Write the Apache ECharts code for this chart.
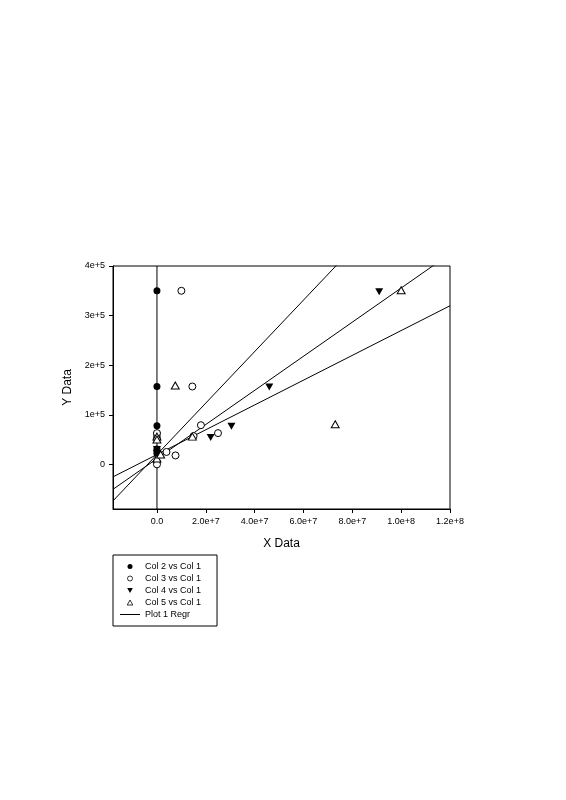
<!DOCTYPE html>
<html>
<head>
<meta charset="utf-8">
<script src="https://cdn.jsdelivr.net/npm/echarts@6/dist/echarts.min.js"></script>
<style>
    body { margin: 0; background: #fff; }
    #chart { width: 566px; height: 800px; }
</style>
</head>
<body>
<div id="chart"></div>
<script>
// scatter data
let col2X = [0, 0, 0, 0, 0, 0, 0, 0]
let col2Y = [350000, 157000, 78000, 62000, 57000, 31000, 27000, 22000]
let col3X = [1.0e7, 1.45e7, 1.8e7, 2.5e7, 7.6e6, 3.9e6, 0, 0, 0, 0, 1.5e7]
let col3Y = [350000, 157000, 79000, 63000, 18000, 25000, 63000, 52000, 5000, 0, 57000]
let col4X = [2.2e7, 3.05e7, 4.6e7, 9.1e7, 0, 0]
let col4Y = [54000, 77000, 156000, 348000, 30000, 22000]
let col5X = [7.5e6, 1.45e7, 7.3e7, 1.0e8, 0, 0, 0, 1.5e6]
let col5Y = [159000, 56000, 81000, 351000, 56000, 50000, 12000, 20000]

// regression lines: intercept / slope (plus one vertical at x = 0)
let regIntercept = [19800, 11600, 19800]
let regSlope = [0.00519, 0.00344, 0.00250]
let vertLineX = 0

// axes
let xMin = -1.8e7, xMax = 1.2e8
let yMin = -9e4, yMax = 4e5
let xTicks = [0, 2e7, 4e7, 6e7, 8e7, 1e8, 1.2e8]
let xTickLabels = ['0.0', '2.0e+7', '4.0e+7', '6.0e+7', '8.0e+7', '1.0e+8', '1.2e+8']
let yTicks = [0, 1e5, 2e5, 3e5, 4e5]
let yTickLabels = ['0', '1e+5', '2e+5', '3e+5', '4e+5']

let font = 'Liberation Sans, Arial, sans-serif'
let triDown = 'path://M0,0 L10,0 L5,9 Z'
let triUp = 'path://M5,0 L10,9 L0,9 Z'
let lineIcon = 'path://M0,0 L20,0 L20,1 L0,1 Z'

function pairs(xs, ys) {
    return xs.map((x, i) => [x, ys[i]])
}

let myChart = echarts.init(document.getElementById('chart'))

let filled = { color: '#000', opacity: 1 }
let hollow = { color: '#fff', borderColor: '#000', borderWidth: 1, opacity: 1 }

let series = [
    { name: 'Col 2 vs Col 1', type: 'scatter', symbol: 'circle', symbolSize: 7, itemStyle: filled, data: pairs(col2X, col2Y), z: 5 },
    { name: 'Col 3 vs Col 1', type: 'scatter', symbol: 'circle', symbolSize: 7, itemStyle: hollow, data: pairs(col3X, col3Y), z: 5 },
    { name: 'Col 4 vs Col 1', type: 'scatter', symbol: triDown, symbolSize: [8, 7], itemStyle: filled, data: pairs(col4X, col4Y), z: 5 },
    { name: 'Col 5 vs Col 1', type: 'scatter', symbol: triUp, symbolSize: [8, 7], itemStyle: hollow, data: pairs(col5X, col5Y), z: 5 },
    {
        name: 'Plot 1 Regr', type: 'line', symbol: 'none', silent: true,
        lineStyle: { color: '#000', width: 1 }, itemStyle: { color: '#000' },
        data: [[vertLineX, yMin], [vertLineX, yMax]], z: 3
    }
]
regIntercept.forEach((a, i) => {
    series.push({
        name: 'Plot 1 Regr', type: 'line', symbol: 'none', silent: true, clip: true,
        lineStyle: { color: '#000', width: 1 }, itemStyle: { color: '#000' },
        data: [[xMin, a + regSlope[i] * xMin], [xMax, a + regSlope[i] * xMax]], z: 3
    })
})

let option = {
    backgroundColor: '#fff',
    animation: false,
    textStyle: { fontFamily: font },
    grid: {
        left: 113, top: 266, width: 337, height: 243,
        show: true, borderColor: '#000', borderWidth: 1
    },
    legend: {
        orient: 'vertical', left: 113, top: 555,
        data: [
            { name: 'Col 2 vs Col 1', icon: 'circle' },
            { name: 'Col 3 vs Col 1', icon: 'circle' },
            { name: 'Col 4 vs Col 1', icon: triDown },
            { name: 'Col 5 vs Col 1', icon: triUp },
            { name: 'Plot 1 Regr', icon: lineIcon }
        ],
        itemWidth: 20, itemHeight: 5, itemGap: 3,
        symbolKeepAspect: true,
        itemStyle: { borderWidth: 0.8 },
        padding: [7, 16, 7, 7],
        borderColor: '#000', borderWidth: 1,
        textStyle: { fontSize: 9, color: '#000', fontFamily: font }
    },
    xAxis: {
        type: 'value', min: xMin, max: xMax,
        name: 'X Data', nameLocation: 'middle', nameGap: 29,
        nameTextStyle: { fontSize: 12, color: '#000', fontFamily: font },
        axisLine: { show: true, onZero: false, lineStyle: { color: '#000', width: 1 } },
        axisTick: { show: true, length: 4, customValues: xTicks, lineStyle: { color: '#000' } },
        axisLabel: {
            customValues: xTicks, fontSize: 9, color: '#000', margin: 8,
            formatter: v => xTickLabels[xTicks.indexOf(v)]
        },
        splitLine: { show: false }
    },
    yAxis: {
        type: 'value', min: yMin, max: yMax,
        name: 'Y Data', nameLocation: 'middle', nameGap: 38,
        nameTextStyle: { fontSize: 12, color: '#000', fontFamily: font },
        axisLine: { show: true, onZero: false, lineStyle: { color: '#000', width: 1 } },
        axisTick: { show: true, length: 4, customValues: yTicks, lineStyle: { color: '#000' } },
        axisLabel: {
            customValues: yTicks, fontSize: 9, color: '#000', margin: 8,
            formatter: v => yTickLabels[yTicks.indexOf(v)]
        },
        splitLine: { show: false }
    },
    series: series
}

myChart.setOption(option)
</script>
</body>
</html>
